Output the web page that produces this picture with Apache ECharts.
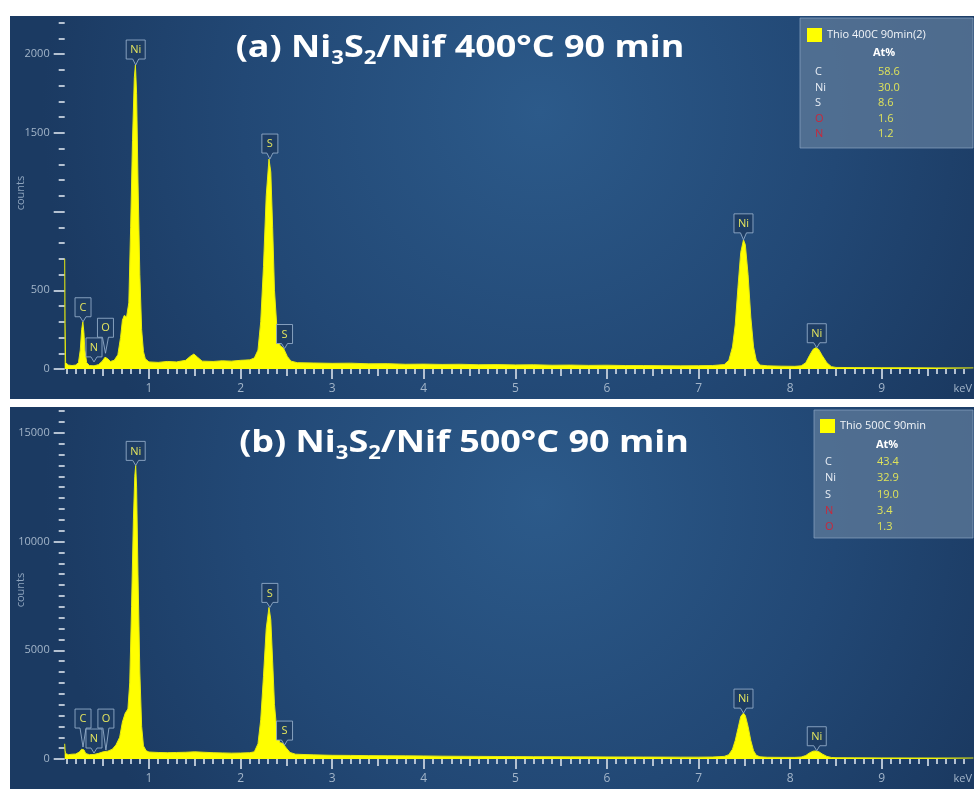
<!DOCTYPE html>
<html><head><meta charset="utf-8">
<script src="https://cdn.jsdelivr.net/npm/echarts@6/dist/echarts.min.js"></script>
<style>html,body{margin:0;padding:0;background:#fff;}#c{width:977px;height:799px;}</style>
</head><body><div id="c"></div>
<script>
// ---------- DATA ----------
const xTickLabels = [1, 2, 3, 4, 5, 6, 7, 8, 9];
const yTickLabelsA = [0, 500, 1500, 2000];
const yMajorA = [0, 500, 1000, 1500, 2000];
const yTickLabelsB = [0, 5000, 10000, 15000];
const yMajorB = [0, 5000, 10000, 15000];
const yAxisTitle = 'counts';
const xAxisUnit = 'keV';

// spectrum (a): [keV, counts]
const spectrumA = [
  [0.08, 700], [0.084, 290], [0.09, 40], [0.12, 25], [0.16, 22], [0.20, 25], [0.23, 40], [0.25, 120],
  [0.265, 250], [0.278, 300], [0.29, 230], [0.30, 120], [0.32, 40], [0.35, 22], [0.40, 20], [0.45, 28],
  [0.49, 50], [0.52, 75], [0.55, 65], [0.58, 48], [0.62, 55], [0.66, 90], [0.69, 200], [0.71, 310],
  [0.73, 340], [0.755, 330], [0.78, 420], [0.80, 900], [0.82, 1450], [0.84, 1850], [0.852, 1930],
  [0.865, 1750], [0.88, 1200], [0.90, 600], [0.92, 250], [0.94, 110], [0.96, 65], [1.0, 45], [1.1, 42],
  [1.2, 48], [1.3, 45], [1.4, 55], [1.45, 80], [1.49, 95], [1.53, 75], [1.58, 50], [1.7, 48], [1.8, 52],
  [1.9, 50], [2.0, 55], [2.1, 58], [2.15, 70], [2.19, 120], [2.22, 300], [2.25, 650], [2.28, 1100],
  [2.31, 1333], [2.33, 1250], [2.35, 900], [2.37, 500], [2.40, 230], [2.43, 150], [2.47, 130], [2.51, 80],
  [2.55, 50], [2.62, 40], [2.8, 38], [3.0, 36], [3.2, 37], [3.4, 33], [3.6, 34], [3.8, 30], [4.0, 31],
  [4.2, 29], [4.4, 30], [4.6, 27], [4.8, 28], [5.0, 26], [5.2, 27], [5.4, 24], [5.6, 25], [5.8, 23],
  [6.0, 24], [6.2, 22], [6.4, 22], [6.6, 21], [6.8, 20], [7.0, 21], [7.15, 22], [7.28, 28], [7.33, 55],
  [7.37, 140], [7.40, 280], [7.43, 520], [7.46, 740], [7.49, 820], [7.51, 790], [7.54, 600], [7.57, 330],
  [7.60, 140], [7.63, 55], [7.67, 25], [7.75, 20], [7.9, 18], [8.05, 17], [8.12, 20], [8.17, 40],
  [8.21, 85], [8.25, 125], [8.28, 135], [8.31, 125], [8.35, 85], [8.40, 40], [8.45, 15], [8.5, 10],
  [8.7, 9], [9.0, 8], [9.3, 8], [9.6, 7], [10.0, 7]
];

// spectrum (b): [keV, counts]
const spectrumB = [
  [0.08, 700], [0.084, 400], [0.09, 250], [0.12, 200], [0.16, 220], [0.20, 230], [0.24, 320], [0.265, 450],
  [0.278, 520], [0.29, 420], [0.31, 250], [0.35, 200], [0.40, 210], [0.45, 260], [0.50, 330], [0.55, 360],
  [0.60, 450], [0.64, 650], [0.68, 1000], [0.71, 1700], [0.74, 2100], [0.77, 2300], [0.79, 3500],
  [0.81, 7000], [0.83, 11000], [0.845, 13000], [0.855, 13500], [0.865, 12500], [0.88, 8500], [0.90, 4000],
  [0.92, 1500], [0.94, 600], [0.97, 380], [1.0, 320], [1.1, 300], [1.2, 290], [1.3, 300], [1.4, 310],
  [1.5, 330], [1.6, 310], [1.7, 290], [1.8, 280], [1.9, 270], [2.0, 275], [2.1, 290], [2.15, 330],
  [2.19, 700], [2.22, 1800], [2.25, 3800], [2.28, 6000], [2.31, 6970], [2.33, 6400], [2.35, 4500],
  [2.37, 2500], [2.40, 1100], [2.43, 750], [2.46, 720], [2.50, 500], [2.54, 300], [2.6, 220], [2.8, 190],
  [3.0, 170], [3.2, 165], [3.4, 155], [3.6, 150], [3.8, 145], [4.0, 140], [4.2, 130], [4.4, 125],
  [4.6, 120], [4.8, 115], [5.0, 110], [5.2, 105], [5.4, 105], [5.6, 100], [5.8, 98], [6.0, 95], [6.2, 92],
  [6.4, 90], [6.6, 88], [6.8, 85], [7.0, 85], [7.15, 90], [7.28, 120], [7.33, 200], [7.37, 450],
  [7.40, 850], [7.43, 1400], [7.46, 1950], [7.49, 2110], [7.51, 2000], [7.54, 1500], [7.57, 850],
  [7.60, 380], [7.63, 170], [7.67, 100], [7.75, 80], [7.9, 75], [8.05, 75], [8.12, 90], [8.17, 160],
  [8.21, 280], [8.25, 360], [8.28, 370], [8.31, 340], [8.35, 230], [8.40, 120], [8.45, 70], [8.5, 60],
  [8.7, 55], [9.0, 50], [9.3, 48], [9.6, 45], [10.0, 45]
];

// peak markers: element, keV, counts at tip
const peakNamesA = ['C', 'N', 'O', 'Ni', 'S', 'S', 'Ni', 'Ni'];
const peakKeVA = [0.28, 0.40, 0.525, 0.855, 2.32, 2.48, 7.49, 8.29];
const peakCountsA = [300, 45, 100, 1930, 1333, 130, 820, 135];
const peakNamesB = ['C', 'N', 'O', 'Ni', 'S', 'S', 'Ni', 'Ni'];
const peakKeVB = [0.28, 0.40, 0.53, 0.855, 2.32, 2.48, 7.49, 8.29];
const peakCountsB = [550, 275, 410, 13500, 6970, 640, 2110, 380];

// quantification tables
const legendTitleA = 'Thio 400C 90min(2)';
const legendElemA = ['C', 'Ni', 'S', 'O', 'N'];
const legendAtA = ['58.6', '30.0', '8.6', '1.6', '1.2'];
const legendTitleB = 'Thio 500C 90min';
const legendElemB = ['C', 'Ni', 'S', 'N', 'O'];
const legendAtB = ['43.4', '32.9', '19.0', '3.4', '1.3'];

const titleA = '(a) Ni{s|3}S{s|2}/Nif 400°C 90 min';
const titleB = '(b) Ni{s|3}S{s|2}/Nif 500°C 90 min';

// ---------- STYLE / LAYOUT ----------
const X_MIN = 0.08, X_MAX = 10;
const TICK = '#b4c1d1', LBL = '#a3b5c9';
const SMALL_FONT = '"Open Sans", "Noto Sans", sans-serif';
const TITLE_FONT = '"Open Sans", Lato, sans-serif';
const tailA = [5, 5, 16, 6, 6, 5, 7, 5];
const tailB = [19, 5, 22, 5, 5, 5, 5, 5];
const redElems = ['O', 'N'];

const xHalf = [], xMinor = [];
for (let i = 1; i < 100; i++) { const v = i / 10; if (i % 10 === 0) continue; if (i % 5 === 0) xHalf.push(v); else xMinor.push(v); }
const yMinorA = []; for (let v = 0; v <= 2200; v += 100) if (v % 500) yMinorA.push(v);
const yMinorB = []; for (let v = 0; v <= 16000; v += 500) if (v % 5000) yMinorB.push(v);

function xAxes(g) {
  const base = { type: 'value', gridIndex: g, position: 'bottom', min: X_MIN, max: X_MAX, axisLine: { show: false }, splitLine: { show: false } };
  return [
    Object.assign({}, base, {
      axisTick: { show: true, customValues: xTickLabels, length: 10, lineStyle: { color: TICK, width: 2 } },
      axisLabel: { customValues: xTickLabels, color: LBL, fontSize: 12, margin: 14, fontFamily: SMALL_FONT, formatter: v => String(v) }
    }),
    Object.assign({}, base, {
      axisTick: { show: true, customValues: xHalf, length: 7, lineStyle: { color: TICK, width: 2 } },
      axisLabel: { show: false }
    }),
    Object.assign({}, base, {
      axisTick: { show: true, customValues: xMinor, length: 5, lineStyle: { color: TICK, width: 2 } },
      axisLabel: { show: false }
    })
  ];
}
function yAxes(g, max, major, labels, minor) {
  const base = { type: 'value', gridIndex: g, min: 0, max: max, position: 'left', axisLine: { show: false }, splitLine: { show: false } };
  return [
    Object.assign({}, base, {
      axisTick: { show: true, customValues: major, length: 11, lineStyle: { color: TICK, width: 2 } },
      axisLabel: { customValues: labels, color: LBL, fontSize: 11, margin: 15, fontFamily: SMALL_FONT, formatter: v => String(v) }
    }),
    Object.assign({}, base, {
      axisTick: { show: true, customValues: minor, length: 6, lineStyle: { color: TICK, width: 2 } },
      axisLabel: { show: false }
    })
  ];
}

function pinRender(names, tails) {
  return function (params, api) {
    const p = api.coord([api.value(0), api.value(1)]);
    const name = names[params.dataIndex];
    const t = tails[params.dataIndex];
    const w = name.length > 1 ? 19 : 16, h = 19;
    const x0 = p[0] - w / 2, yb = p[1] - t, y0 = yb - h;
    return {
      type: 'group',
      children: [
        { type: 'polygon', shape: { points: [[x0, y0], [x0 + w, y0], [x0 + w, yb], [p[0] + 3, yb], [p[0], p[1]], [p[0] - 3, yb], [x0, yb]] },
          style: { fill: '#1e3d64', stroke: 'rgba(150,176,205,0.85)', lineWidth: 1 } },
        { type: 'text', x: p[0], y: y0 + h / 2 + 0.5,
          style: { text: name, fill: '#e4e55e', font: '11px ' + SMALL_FONT, align: 'center', verticalAlign: 'middle' } }
      ]
    };
  };
}

function panelBg(y, h) {
  return { type: 'rect', z: -10, shape: { x: 10, y: y, width: 964, height: h },
    style: { fill: { type: 'radial', x: 0.55, y: 0.25, r: 1.3, colorStops: [
      { offset: 0, color: '#2c5a8a' }, { offset: 0.6, color: '#224875' }, { offset: 1, color: '#1b3a62' }] } } };
}

function legendBox(o, title, elems, vals) {
  const ch = [];
  ch.push({ type: 'rect', shape: { x: o.bx, y: o.by, width: o.bw, height: o.bh },
    style: { fill: 'rgba(92,120,152,0.78)', stroke: 'rgba(140,165,195,0.7)', lineWidth: 1 } });
  ch.push({ type: 'rect', shape: { x: o.sx, y: o.sy, width: 15, height: 14 }, style: { fill: '#ffff00' } });
  ch.push({ type: 'text', x: o.tx, y: o.sy + 7, style: { text: title, fill: '#f2f5f9', font: '11px ' + SMALL_FONT, verticalAlign: 'middle' } });
  ch.push({ type: 'text', x: o.ax, y: o.ay, style: { text: 'At%', fill: '#ffffff', font: 'bold 11px ' + SMALL_FONT, verticalAlign: 'middle' } });
  elems.forEach((e, i) => {
    const y = o.ry + i * o.step;
    ch.push({ type: 'text', x: o.lx, y: y, style: { text: e, fill: redElems.includes(e) ? '#c8283c' : '#e9eef5', font: '11px ' + SMALL_FONT, verticalAlign: 'middle' } });
    ch.push({ type: 'text', x: o.vx, y: y, style: { text: vals[i], fill: '#dfe35a', font: '11px ' + SMALL_FONT, verticalAlign: 'middle' } });
  });
  return { type: 'group', z: 100, children: ch };
}

const titleRich = { s: { fontSize: 19, fontWeight: 'bold', fontFamily: TITLE_FONT, fill: '#ffffff', lineHeight: 20, verticalAlign: 'bottom' } };
function titleText(x, y, txt) {
  return { type: 'text', z: 50, x: x, y: y, scaleX: 1.16,
    style: { text: txt, fill: '#ffffff', font: 'bold 31px ' + TITLE_FONT, lineHeight: 40, align: 'center', verticalAlign: 'middle', rich: titleRich } };
}
function smallText(x, y, txt, extra) {
  return Object.assign({ type: 'text', z: 50, x: x, y: y,
    style: { text: txt, fill: LBL, font: '11px ' + SMALL_FONT, align: 'right', verticalAlign: 'middle' } }, extra || {});
}
function vText(x, y, txt) {
  return { type: 'text', z: 50, x: x, y: y, rotation: Math.PI / 2 * 1,
    style: { text: txt, fill: '#8ea4bd', font: '11px ' + SMALL_FONT, align: 'center', verticalAlign: 'middle' } };
}

const chart = echarts.init(document.getElementById('c'), null, { renderer: 'canvas', width: 977, height: 799 });
chart.setOption({
  backgroundColor: '#ffffff',
  animation: false,
  grid: [
    { left: 64.7, right: 3.6, top: 22.5, height: 346.5, containLabel: false, outerBoundsMode: 'none' },
    { left: 64.7, right: 3.6, top: 411, height: 348, containLabel: false, outerBoundsMode: 'none' }
  ],
  xAxis: xAxes(0).concat(xAxes(1)),
  yAxis: yAxes(0, 2200, yMajorA, yTickLabelsA, yMinorA).concat(yAxes(1, 16000, yMajorB, yTickLabelsB, yMinorB)),
  graphic: [
    panelBg(16, 383), panelBg(407, 382),
    titleText(460, 48, titleA), titleText(464, 443, titleB),
    smallText(972, 389, xAxisUnit), smallText(972, 779, xAxisUnit),
    vText(21, 193, yAxisTitle), vText(21, 590, yAxisTitle),
    legendBox({ bx: 800, by: 18, bw: 173, bh: 130, sx: 807, sy: 28, tx: 827, ax: 873, ay: 53, lx: 815, vx: 878, ry: 72, step: 15.5 }, legendTitleA, legendElemA, legendAtA),
    legendBox({ bx: 814, by: 410, bw: 159, bh: 128, sx: 820, sy: 419, tx: 840, ax: 876, ay: 445, lx: 825, vx: 877, ry: 462, step: 16.2 }, legendTitleB, legendElemB, legendAtB)
  ],
  series: [
    { type: 'line', xAxisIndex: 0, yAxisIndex: 0, data: spectrumA, showSymbol: false, symbol: 'none',
      lineStyle: { color: '#e6ea10', width: 1 }, areaStyle: { color: '#ffff00', opacity: 1 }, z: 3 },
    { type: 'line', xAxisIndex: 3, yAxisIndex: 2, data: spectrumB, showSymbol: false, symbol: 'none',
      lineStyle: { color: '#e6ea10', width: 1 }, areaStyle: { color: '#ffff00', opacity: 1 }, z: 3 },
    { type: 'custom', xAxisIndex: 0, yAxisIndex: 0, clip: false, z: 10,
      data: peakKeVA.map((e, i) => [e, peakCountsA[i]]), renderItem: pinRender(peakNamesA, tailA) },
    { type: 'custom', xAxisIndex: 3, yAxisIndex: 2, clip: false, z: 10,
      data: peakKeVB.map((e, i) => [e, peakCountsB[i]]), renderItem: pinRender(peakNamesB, tailB) }
  ]
});
</script></body></html>
